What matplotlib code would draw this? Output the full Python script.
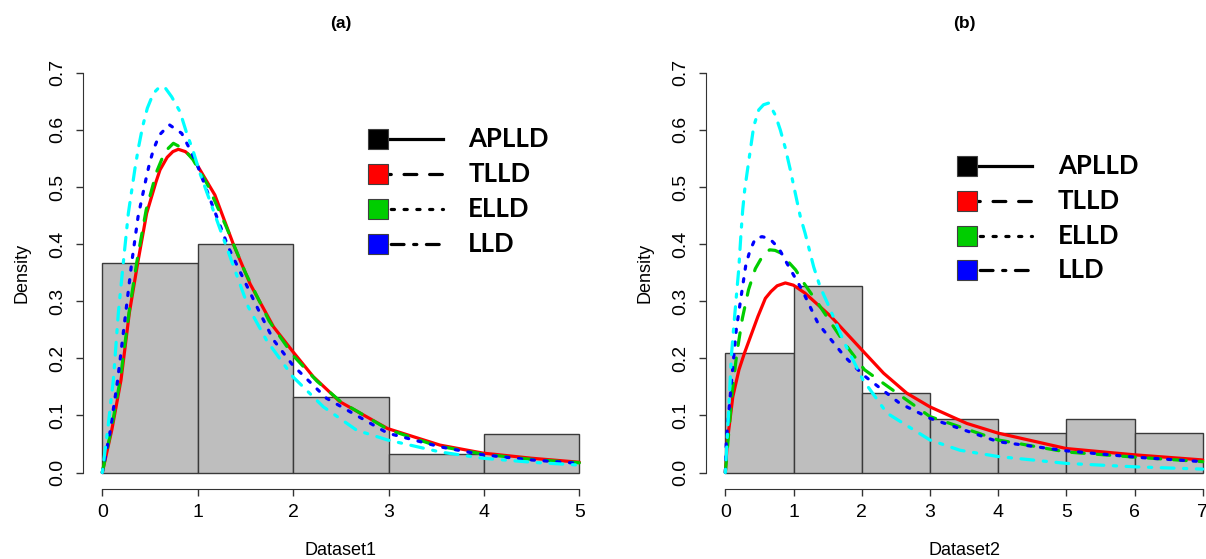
import numpy as np
import matplotlib
matplotlib.use("Agg")
import matplotlib.pyplot as plt

plt.rcParams['font.family'] = ['Liberation Sans', 'DejaVu Sans']

# ---------------- data: panel (a) ----------------
bins_a = [0, 1, 2, 3, 4, 5]
dens_a = [0.367, 0.400, 0.133, 0.033, 0.067]

red_a_x = [0, 0.1, 0.196, 0.283, 0.371, 0.465, 0.563, 0.605, 0.68, 0.74, 0.797, 0.87, 0.954, 1.077,
           1.18, 1.373, 1.55, 1.795, 1.996, 2.21, 2.49, 2.99, 3.54, 3.99, 4.5, 5.0]
red_a_y = [0, 0.075, 0.162, 0.279, 0.367, 0.454, 0.509, 0.530, 0.552, 0.562, 0.566, 0.562, 0.550, 0.515,
           0.486, 0.400, 0.330, 0.255, 0.212, 0.168, 0.124, 0.077, 0.048, 0.034, 0.025, 0.018]
green_a_x = [0, 0.1, 0.19, 0.28, 0.36, 0.46, 0.57, 0.657, 0.745, 0.85, 0.95, 1.1, 1.3, 1.5, 1.75,
             2.0, 2.25, 2.5, 3.0, 3.5, 4.0, 4.5, 5.0]
green_a_y = [0, 0.08, 0.165, 0.28, 0.367, 0.46, 0.527, 0.562, 0.5765, 0.567, 0.548, 0.505, 0.43, 0.35, 0.265,
             0.205, 0.160, 0.124, 0.075, 0.047, 0.032, 0.023, 0.017]
blue_a_x = [0, 0.08, 0.161, 0.245, 0.308, 0.375, 0.458, 0.493, 0.535, 0.598, 0.702, 0.832, 0.912, 0.99,
            1.147, 1.32, 1.443, 1.653, 1.795, 1.996, 2.35, 2.99, 3.54, 3.99, 4.5, 5.0]
blue_a_y = [0, 0.07, 0.162, 0.279, 0.367, 0.448, 0.514, 0.54, 0.565, 0.591, 0.609, 0.594, 0.568, 0.541,
            0.471, 0.395, 0.352, 0.279, 0.232, 0.188, 0.130, 0.069, 0.045, 0.031, 0.022, 0.016]
cyan_a_x = [0, 0.056, 0.116, 0.168, 0.22, 0.273, 0.343, 0.378, 0.423, 0.472, 0.535, 0.605, 0.662, 0.727,
            0.814, 0.885, 0.954, 1.024, 1.25, 1.443, 1.53, 1.72, 1.996, 2.317, 2.667, 2.99, 3.54, 3.99,
            4.5, 5.0]
cyan_a_y = [0, 0.074, 0.162, 0.279, 0.367, 0.454, 0.533, 0.568, 0.606, 0.638, 0.664, 0.676, 0.673, 0.658,
            0.632, 0.594, 0.562, 0.524, 0.419, 0.330, 0.29, 0.232, 0.168, 0.115, 0.074, 0.057, 0.036, 0.025,
            0.018, 0.013]

# ---------------- data: panel (b) ----------------
bins_b = [0, 1, 2, 3, 4, 5, 6, 7]
dens_b = [0.209, 0.326, 0.140, 0.093, 0.070, 0.093, 0.070]

red_b_x = [0.0, 0.03, 0.11, 0.2, 0.28, 0.477, 0.587, 0.67, 0.76, 0.88, 1.0, 1.17, 1.55, 2.0, 2.32,
           2.66, 3.0, 3.54, 4.0, 5.0, 6.0, 7.0]
red_b_y = [0.0, 0.055, 0.133, 0.18, 0.209, 0.273, 0.305, 0.317, 0.327, 0.332, 0.328, 0.314, 0.273, 0.215, 0.174,
           0.139, 0.115, 0.086, 0.069, 0.042, 0.031, 0.022]
green_b_x = [0.0, 0.05, 0.1, 0.17, 0.25, 0.34, 0.44, 0.56, 0.65, 0.73, 0.82, 0.9, 1.03, 1.15, 1.36,
             1.75, 2.04, 2.46, 3.0, 4.0, 5.0, 6.0, 7.0]
green_b_y = [0.0, 0.07, 0.14, 0.21, 0.27, 0.32, 0.357, 0.382, 0.39, 0.389, 0.384, 0.372, 0.355, 0.332, 0.296,
             0.226, 0.18, 0.144, 0.098, 0.057, 0.036, 0.027, 0.019]
blue_b_x = [0.0, 0.015, 0.088, 0.16, 0.235, 0.30, 0.357, 0.44, 0.538, 0.646, 0.783, 0.905, 1.0, 1.125,
            1.36, 1.75, 2.02, 2.56, 3.0, 4.0, 5.0, 6.0, 7.0]
blue_b_y = [0.0, 0.057, 0.156, 0.25, 0.311, 0.363, 0.387, 0.41, 0.413, 0.41, 0.393, 0.366, 0.346, 0.32,
            0.261, 0.203, 0.171, 0.121, 0.095, 0.054, 0.038, 0.027, 0.019]
cyan_b_x = [0.0, 0.04, 0.088, 0.13, 0.17, 0.196, 0.23, 0.255, 0.284, 0.318, 0.367, 0.416, 0.49, 0.56,
            0.636, 0.733, 0.806, 0.88, 0.953, 1.026, 1.1, 1.17, 1.296, 1.39, 1.50, 1.75, 2.02, 2.37,
            3.0, 3.44, 4.0, 5.0, 6.0, 7.0]
cyan_b_y = [0.0, 0.086, 0.203, 0.265, 0.32, 0.355, 0.419, 0.46, 0.495, 0.524, 0.565, 0.606, 0.635, 0.644,
            0.647, 0.626, 0.6, 0.568, 0.53, 0.489, 0.448, 0.419, 0.36, 0.325, 0.296, 0.226, 0.162, 0.104,
            0.057, 0.039, 0.028, 0.016, 0.010, 0.006]

legend_labels = ["APLLD", "TLLD", "ELLD", "LLD"]
legend_fill = ["black", "#FF0000", "#00CD00", "#0000FF"]

LW = 2.3
styles = {
    'red': dict(color='#FF0000', ls='-'),
    'green': dict(color='#00CD00', ls=(0, (4, 4))),
    'blue': dict(color='#0000FF', ls=(0, (1, 3))),
    'cyan': dict(color='#00FFFF', ls=(0, (1, 3, 4, 3))),
}
legend_ls = ['-', (0, (4, 4)), (0, (1, 3)), (0, (1, 3, 4, 3))]


def panel(ax, bins, dens, curves, xmax, title, xlabel, leg_x, leg_y, leg_dy):
    ax.bar(bins[:-1], dens, width=1, align='edge', color='#BEBEBE', edgecolor='#3a3a3a', lw=1, zorder=1)
    for key, (cx, cy) in curves.items():
        ax.plot(cx, cy, lw=LW, dash_capstyle='round', solid_capstyle='round',
                solid_joinstyle='round', zorder=3, **styles[key])
    ax.set_xlim(-0.04 * xmax, xmax * 1.04)
    ax.set_ylim(-0.028, 0.728)
    for s in ['top', 'right']:
        ax.spines[s].set_visible(False)
    ax.spines['left'].set_bounds(0, 0.7)
    ax.spines['bottom'].set_bounds(0, xmax)
    for s in ['left', 'bottom']:
        ax.spines[s].set_color('#333333')
    ax.set_xticks(bins)
    ax.set_yticks(np.arange(0, 0.71, 0.1))
    ax.set_yticklabels([f"{v:.1f}" for v in np.arange(0, 0.71, 0.1)])
    ax.tick_params(axis='both', length=5, width=1, color='#333333', labelsize=14)
    ax.tick_params(axis='x', pad=6)
    ax.tick_params(axis='y', pad=7.5)
    for lbl in ax.get_yticklabels():
        lbl.set_rotation(90)
        lbl.set_va('center')
    ax.text(0.5, 1.078, title, transform=ax.transAxes, ha='center', va='center',
            fontsize=12.5, fontweight='bold')
    ax.text(0.5, -0.1425, xlabel, transform=ax.transAxes, ha='center', va='center', fontsize=13)
    ax.text(-0.118, 0.5, 'Density', transform=ax.transAxes, ha='center', va='center',
            rotation=90, fontsize=13)

    # legend: filled square + black line, drawn by hand (R-style)
    for i, (lab, fc, ls) in enumerate(zip(legend_labels, legend_fill, legend_ls)):
        y = leg_y - i * leg_dy
        ax.plot([leg_x + 0.0204, leg_x + 0.147], [y, y], transform=ax.transAxes, color='black',
                lw=LW, ls=ls, dash_capstyle='round', clip_on=False, zorder=5)
        ax.plot([leg_x + 0.0204], [y], transform=ax.transAxes, marker='s', ms=14, mfc=fc,
                mec='#404040', mew=0.8, ls='none', clip_on=False, zorder=6)
        ax.text(leg_x + 0.196, y, lab, transform=ax.transAxes, ha='left', va='center',
                fontsize=18.5, fontweight='bold', family=['Lato', 'DejaVu Sans'], zorder=6)


fig = plt.figure(figsize=(12.06, 5.59), dpi=100)
ax1 = fig.add_axes([0.0690, 0.1261, 0.4272, 0.7723])
ax2 = fig.add_axes([0.5856, 0.1261, 0.4275, 0.7723])

panel(ax1, bins_a, dens_a,
      {'red': (red_a_x, red_a_y), 'green': (green_a_x, green_a_y),
       'blue': (blue_a_x, blue_a_y), 'cyan': (cyan_a_x, cyan_a_y)},
      5, '(a)', 'Dataset1', 0.5514, 0.809, 0.0810)
panel(ax2, bins_b, dens_b,
      {'red': (red_b_x, red_b_y), 'green': (green_b_x, green_b_y),
       'blue': (blue_b_x, blue_b_y), 'cyan': (cyan_b_x, cyan_b_y)},
      7, '(b)', 'Dataset2', 0.4858, 0.748, 0.0810)

fig.savefig('out.png', dpi=100)
